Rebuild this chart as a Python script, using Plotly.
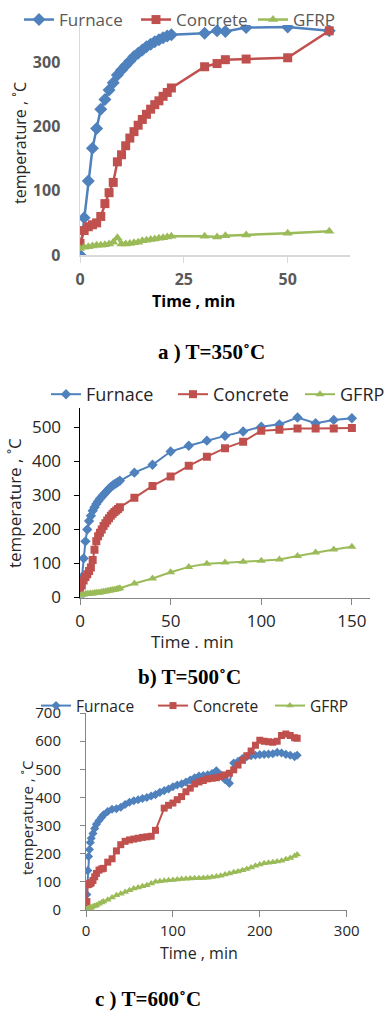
import plotly.graph_objects as go

# ---------------- data ----------------
a_time = list(range(0, 23)) + [30, 33, 35, 40, 50, 60]
a_furnace = [0, 58, 115, 166, 197, 227, 242, 257, 268, 280, 288, 295, 302, 309, 314, 319, 324, 328, 332, 335,
             338, 341, 343, 345, 349, 348, 354, 355, 349]
a_concrete = [18, 38, 44, 47, 50, 60, 80, 97, 113, 145, 156, 170, 182, 192, 202, 211, 219, 227, 234, 240,
              247, 253, 260, 293, 298, 304, 305, 307, 349]
a_gfrp = [10, 12, 13, 14, 15, 15, 16, 17, 20, 27, 17, 17, 18, 19, 20, 22, 23, 24, 25, 26,
          27, 28, 29, 29, 28, 30, 31, 34, 37]

b_time = list(range(0, 23)) + [30, 40, 50, 60, 70, 80, 90, 100, 110, 120, 130, 140, 150]
b_furnace = [0, 60, 115, 165, 200, 225, 240, 255, 265, 275, 283, 290, 296, 302, 308, 314, 320, 325, 329, 333,
             336, 340, 343, 367, 390, 429, 446, 461, 475, 488, 502, 509, 529, 512, 522, 527]
b_concrete = [20, 35, 50, 60, 68, 78, 88, 110, 140, 165, 180, 190, 200, 210, 218, 226, 233, 240, 246, 251,
              256, 260, 265, 293, 328, 356, 387, 414, 439, 458, 490, 493, 497, 497, 497, 498]
b_gfrp = [5, 8, 9, 10, 11, 11, 12, 12, 13, 14, 14, 15, 16, 17, 18, 19, 20, 21, 22, 23,
          24, 26, 27, 41, 56, 74, 90, 99, 103, 105, 108, 112, 122, 132, 141, 149]

c_time = [0, 1, 2, 3, 4, 5, 6, 8, 10, 12, 15, 18, 20, 25, 30, 35, 40, 45, 50, 55,
          60, 65, 70, 75, 80, 85, 90, 95, 100, 105, 110, 115, 120, 125, 130, 135, 140, 145, 150, 155,
          160, 165, 170, 175, 180, 185, 190, 195, 200, 205, 210, 215, 220, 225, 230, 235, 240, 243]
c_furnace = [5, 55, 140, 190, 215, 240, 255, 272, 290, 305, 318, 330, 338, 350, 358, 360, 365, 375, 383, 388,
             392, 396, 400, 405, 410, 418, 424, 430, 438, 444, 448, 455, 462, 470, 476, 478, 480, 485, 495, 480,
             463, 450, 522, 528, 538, 545, 548, 550, 552, 553, 554, 555, 560, 558, 553, 550, 545, 550]
c_concrete = [5, 30, 90, 92, 93, 95, 97, 105, 118, 130, 142, 146, 148, 170, 182, 210, 232, 244, 249, 252,
              255, 258, 260, 262, 283, None, 362, 372, 380, 392, 403, 420, 433, 448, 455, 460, 466, 468, 470, 474,
              480, 486, 498, 515, 532, 548, 565, 585, 603, 600, 598, 596, 600, 620, 625, 620, 612, 610]
c_gfrp = [2, 3, 5, 6, 7, 8, 9, 12, 14, 17, 22, 27, 30, 36, 44, 52, 58, 64, 70, 76,
          80, 84, 88, 94, 100, 102, 104, 106, 107, 108, 110, 111, 112, 113, 113, 114, 115, 117, 119, 122,
          126, 130, 134, 137, 141, 146, 151, 157, 162, 166, 168, 170, 172, 175, 180, 185, 192, 197]

series_names = ["Furnace", "Concrete", "GFRP"]
colors = ["#4F81BD", "#C0504D", "#9BBB59"]
symbols = ["diamond", "square", "triangle-up"]

captions = ["a ) T=350˚C", "b) T=500˚C", "c ) T=600˚C"]

W, H = 385, 1011
FONT = "Open Sans"


def px_x(p):
    return p / W


def px_y(p):
    return 1 - p / H


fig = go.Figure()

panels = [
    dict(t=a_time, ys=[a_furnace, a_concrete, a_gfrp], xa="x", ya="y", leg="legend", msize=[10, 9, 9], lw=2.5),
    dict(t=b_time, ys=[b_furnace, b_concrete, b_gfrp], xa="x2", ya="y2", leg="legend2", msize=[8, 8, 8], lw=2),
    dict(t=c_time, ys=[c_furnace, c_concrete, c_gfrp], xa="x3", ya="y3", leg="legend3", msize=[7, 7, 7], lw=2),
]

for p in panels:
    for name, yv, col, sym, ms in zip(series_names, p["ys"], colors, symbols, p["msize"]):
        fig.add_trace(go.Scatter(
            x=p["t"], y=yv, name=name, mode="lines+markers", connectgaps=True,
            line=dict(color=col, width=p["lw"]),
            marker=dict(symbol=sym, size=ms, color=col),
            xaxis=p["xa"], yaxis=p["ya"], legend=p["leg"],
        ))

grey = "#595959"
dark = "#262626"

layout = dict(
    width=W, height=H,
    margin=dict(l=0, r=0, t=0, b=0, autoexpand=False),
    paper_bgcolor="white", plot_bgcolor="white",
    font=dict(family=FONT, color=dark),
    showlegend=True,
    # panel a
    xaxis=dict(domain=[px_x(80), px_x(350)], range=[0, 65], anchor="y", tickvals=[0, 25, 50],
               showgrid=False, zeroline=False, showline=True, linecolor="#D9D9D9", linewidth=1.5,
               ticks="outside", ticklen=6, tickcolor="#D9D9D9", ticklabelstandoff=3,
               tickfont=dict(family=FONT, size=16, color=grey, weight="bold")),
    yaxis=dict(domain=[px_y(255), px_y(25)], range=[0, 358], anchor="x", tickvals=[0, 100, 200, 300],
               showgrid=False, zeroline=False, showline=True, linecolor="#D9D9D9", linewidth=1.5,
               ticks="", ticklabelstandoff=15,
               tickfont=dict(family=FONT, size=16, color=grey, weight="bold")),
    # panel b
    xaxis2=dict(domain=[px_x(80), px_x(370)], range=[0, 160], anchor="y2", tickvals=[0, 50, 100, 150],
                showgrid=False, zeroline=False, showline=True, linecolor="#868686", linewidth=1,
                ticks="outside", ticklen=6, tickcolor="#868686", ticklabelstandoff=2,
                tickfont=dict(family=FONT, size=17, color=dark)),
    yaxis2=dict(domain=[px_y(597.5), px_y(408)], range=[0, 557], anchor="x2", tickvals=[0, 100, 200, 300, 400, 500],
                showgrid=False, zeroline=False, showline=True, linecolor="#000000", linewidth=1.5,
                ticks="outside", ticklen=5, tickcolor="#000000", ticklabelstandoff=9,
                tickfont=dict(family=FONT, size=17, color=dark)),
    # panel c
    xaxis3=dict(domain=[px_x(86), px_x(346.7)], range=[0, 300], anchor="y3", tickvals=[0, 100, 200, 300],
                showgrid=False, zeroline=False, showline=True, linecolor="#868686", linewidth=1,
                ticks="outside", ticklen=6, tickcolor="#868686", ticklabelstandoff=1,
                tickfont=dict(family=FONT, size=15, color=dark)),
    yaxis3=dict(domain=[px_y(910), px_y(713)], range=[0, 700], anchor="x3",
                tickvals=[0, 100, 200, 300, 400, 500, 600, 700],
                showgrid=False, zeroline=False, showline=True, linecolor="#868686", linewidth=1,
                ticks="outside", ticklen=5, tickcolor="#868686", ticklabelstandoff=16,
                tickfont=dict(family=FONT, size=15, color=dark)),
    legend=dict(orientation="h", x=px_x(19), y=px_y(2), xanchor="left", yanchor="top",
                entrywidth=72, entrywidthmode="pixels",
                font=dict(family=FONT, size=17, color=grey), bgcolor="rgba(0,0,0,0)"),
    legend2=dict(orientation="h", x=px_x(46), y=px_y(376), xanchor="left", yanchor="top",
                 entrywidth=82, entrywidthmode="pixels",
                 font=dict(family=FONT, size=18, color=dark), bgcolor="rgba(0,0,0,0)"),
    legend3=dict(orientation="h", x=px_x(36), y=px_y(689), xanchor="left", yanchor="top",
                 entrywidth=72, entrywidthmode="pixels",
                 font=dict(family=FONT, size=15.5, color=dark), bgcolor="rgba(0,0,0,0)"),
)
fig.update_layout(**layout)

ann = []
# y titles
for (xc, yc, sz) in [(20, 143, 16), (14, 503, 17), (27, 818, 15)]:
    ann.append(dict(text="temperature , ˚C", x=px_x(xc), y=px_y(yc), xref="paper", yref="paper",
                    xanchor="center", yanchor="middle",
                    textangle=-90, showarrow=False, font=dict(family=FONT, size=sz, color=dark)))
# x titles
for txt, xc, yc, sz, col in [("<b>Time , min</b>", 194, 301, 16, "#000000"),
                             ("Time . min", 192, 641, 17, dark),
                             ("Time , min", 199, 953, 16, dark)]:
    ann.append(dict(text=txt, x=px_x(xc), y=px_y(yc), xref="paper", yref="paper",
                    xanchor="center", yanchor="middle",
                    showarrow=False, font=dict(family=FONT, size=sz, color=col)))
# captions
for txt, xc, yc in zip(captions, [212, 189, 148], [352, 677, 999]):
    ann.append(dict(text="<b>" + txt + "</b>", x=px_x(xc), y=px_y(yc), xref="paper", yref="paper",
                    xanchor="center", yanchor="middle",
                    showarrow=False, font=dict(family="Liberation Serif", size=21, color="#000000")))
fig.update_layout(annotations=ann)

fig.write_html("out.html", config={"staticPlot": True},
               post_script="document.body.style.margin='0px';")
